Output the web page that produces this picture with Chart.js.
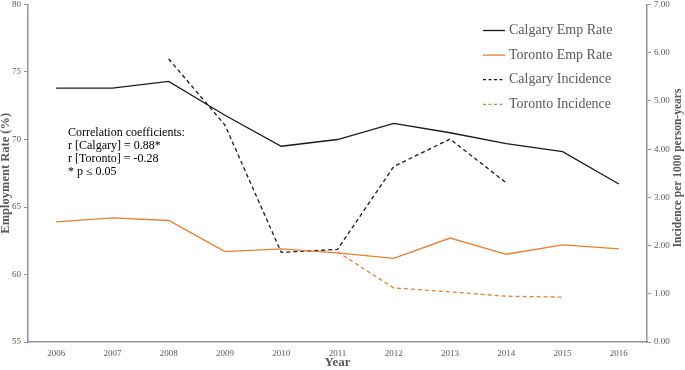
<!DOCTYPE html>
<html>
<head>
<meta charset="utf-8">
<script src="https://cdn.jsdelivr.net/npm/chart.js@4.4.1/dist/chart.umd.min.js"></script>
<style>
  html, body { margin: 0; padding: 0; background: #fff; }
  #wrap { width: 685px; height: 370px; }
</style>
</head>
<body>
<div id="wrap"><canvas id="chart"></canvas></div>
<script>
const years = ["2006", "2007", "2008", "2009", "2010", "2011", "2012", "2013", "2014", "2015", "2016"];

// employment rate (%), left axis
const calgaryEmp = [73.8, 73.8, 74.3, 71.8, 69.5, 70.0, 71.2, 70.5, 69.7, 69.1, 66.7];
const torontoEmp = [63.9, 64.2, 64.0, 61.7, 61.9, 61.6, 61.2, 62.7, 61.5, 62.2, 61.9];

// incidence per 1000 person-years, right axis
const calgaryInc = [null, null, 5.87, 4.5, 1.86, 1.92, 3.64, 4.21, 3.3, null, null];
const torontoInc = [null, null, null, null, null, 1.87, 1.12, 1.04, 0.95, 0.93, null];

const empTicks = [55, 60, 65, 70, 75, 80];
const incTicks = [0, 1, 2, 3, 4, 5, 6, 7];

const noteLines = [
  "Correlation coefficients:",
  "r [Calgary] = 0.88*",
  "r [Toronto] = -0.28",
  "* p \u2264 0.05",
];

const serif = "'Liberation Serif', 'Times New Roman', serif";
const black = "#1a1a1a";
const orange = "#ed7d31";
const axisGrey = "#8a96a8";
const textGrey = "#595959";

function makeSet(label, data, color, dashed, axis) {
  return {
    label: label,
    data: data,
    borderColor: color,
    backgroundColor: color,
    borderWidth: 1.3,
    borderDash: dashed ? [4, 3] : [],
    pointRadius: 0,
    tension: 0,
    yAxisID: axis,
    _dashed: dashed,
  };
}

// legend list + note text + right axis title
const extrasPlugin = {
  id: "extras",
  afterDraw(chart) {
    const ctx = chart.ctx;
    const area = chart.chartArea;
    ctx.save();

    // legend
    ctx.font = "14px " + serif;
    ctx.textBaseline = "middle";
    ctx.textAlign = "left";
    chart.data.datasets.forEach((ds, i) => {
      const x = area.right - 164;
      const y = area.top + 26 + i * 24.6;
      ctx.strokeStyle = ds.borderColor;
      ctx.lineWidth = 1.3;
      ctx.setLineDash(ds._dashed ? [3, 2.5] : []);
      ctx.beginPath();
      ctx.moveTo(x, y);
      ctx.lineTo(x + 22, y);
      ctx.stroke();
      ctx.fillStyle = textGrey;
      ctx.fillText(ds.label, x + 26, y);
    });
    ctx.setLineDash([]);

    // correlation note
    ctx.font = "12px " + serif;
    ctx.fillStyle = "#000";
    noteLines.forEach((t, i) => {
      ctx.fillText(t, area.left + 40, 133 + i * 13);
    });

    // right axis title, reads bottom to top
    ctx.font = "bold 11.5px " + serif;
    ctx.fillStyle = textGrey;
    ctx.textAlign = "center";
    ctx.translate(678, 168);
    ctx.rotate(-Math.PI / 2);
    ctx.fillText("Incidence per 1000 person-years", 0, 0);
    ctx.restore();
  },
};

const chart = new Chart(document.getElementById("chart"), {
  type: "line",
  data: {
    labels: years,
    datasets: [
      makeSet("Calgary Emp Rate", calgaryEmp, black, false, "y"),
      makeSet("Toronto Emp Rate", torontoEmp, orange, false, "y"),
      makeSet("Calgary Incidence", calgaryInc, black, true, "y1"),
      makeSet("Toronto Incidence", torontoInc, orange, true, "y1"),
    ],
  },
  options: {
    responsive: true,
    maintainAspectRatio: false,
    animation: false,
    layout: { padding: { top: 4.5, right: 0, bottom: 0, left: 0 } },
    plugins: {
      legend: { display: false },
      tooltip: { enabled: false },
    },
    scales: {
      x: {
        offset: true,
        grid: { display: false, drawTicks: false },
        border: { display: true, color: axisGrey, width: 1.5 },
        ticks: { color: textGrey, font: { family: serif, size: 9 }, padding: 6, maxRotation: 0 },
        title: {
          display: true,
          text: "Year",
          color: textGrey,
          font: { family: serif, size: 13, weight: "bold" },
          padding: { top: 0, bottom: 0 },
        },
        afterFit(scale) { scale.height = 28; scale.paddingLeft = 0; scale.paddingRight = 0; },
      },
      y: {
        position: "left",
        min: 55,
        max: 80,
        afterBuildTicks(scale) { scale.ticks = empTicks.map(v => ({ value: v })); },
        grid: { drawOnChartArea: false, drawTicks: true, tickLength: 4, color: axisGrey },
        border: { display: true, color: axisGrey, width: 1.5 },
        ticks: { color: textGrey, font: { family: serif, size: 9 }, padding: 3 },
        title: {
          display: true,
          text: "Employment Rate (%)",
          color: textGrey,
          font: { family: serif, size: 12.5, weight: "bold", lineHeight: 1 },
          padding: { top: 0, bottom: 0 },
        },
        afterFit(scale) { scale.width = 28; scale.paddingTop = 0; scale.paddingBottom = 0; },
      },
      y1: {
        position: "right",
        min: 0,
        max: 7,
        afterBuildTicks(scale) { scale.ticks = incTicks.map(v => ({ value: v })); },
        grid: { drawOnChartArea: false, drawTicks: true, tickLength: 4, color: axisGrey },
        border: { display: true, color: axisGrey, width: 1.5 },
        ticks: {
          color: textGrey,
          font: { family: serif, size: 9 },
          padding: 3,
          callback: (v) => Number(v).toFixed(2),
        },
        afterFit(scale) { scale.width = 38; scale.paddingTop = 0; scale.paddingBottom = 0; },
      },
    },
  },
  plugins: [extrasPlugin],
});
</script>
</body>
</html>
